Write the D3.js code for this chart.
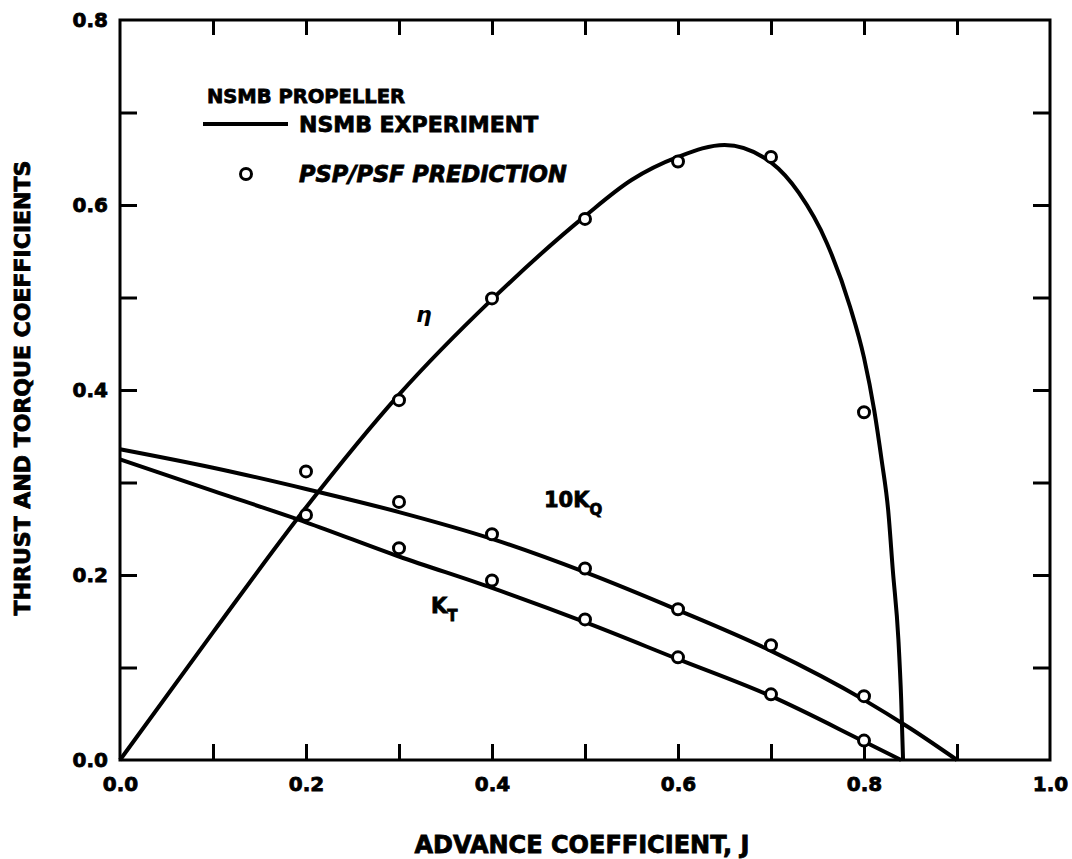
<!DOCTYPE html>
<html>
<head>
<meta charset="utf-8">
<script src="https://cdn.jsdelivr.net/npm/d3@7"></script>
<style>
  body { margin: 0; background: #fff; }
  text { font-family: "DejaVu Sans", sans-serif; font-weight: bold; fill: #000; }
</style>
</head>
<body>
<script>
/* experiment curves (NSMB) */
var etaJ   = [0, 0.1, 0.2, 0.3, 0.4, 0.5, 0.55, 0.6, 0.65, 0.7, 0.73, 0.76, 0.785, 0.8, 0.811, 0.819, 0.826, 0.831, 0.837, 0.84, 0.842];
var etaExp = [0, 0.138, 0.273, 0.395, 0.498, 0.588, 0.627, 0.652, 0.665, 0.646, 0.613, 0.559, 0.49, 0.435, 0.378, 0.324, 0.27, 0.205, 0.13, 0.065, 0];

var kqJ   = [0, 0.1, 0.2, 0.3, 0.4, 0.5, 0.6, 0.7, 0.8, 0.85, 0.9];
var kqExp = [0.336, 0.316, 0.293, 0.268, 0.239, 0.203, 0.162, 0.118, 0.065, 0.034, 0];

var ktJ   = [0, 0.1, 0.2, 0.3, 0.4, 0.5, 0.6, 0.7, 0.8, 0.84];
var ktExp = [0.325, 0.291, 0.257, 0.220, 0.186, 0.149, 0.109, 0.069, 0.02, 0];

/* PSP/PSF prediction points */
var etaPredJ = [0.3, 0.4, 0.5, 0.6, 0.7, 0.8];
var etaPred  = [0.389, 0.499, 0.585, 0.647, 0.652, 0.376];
var predJ    = [0.2, 0.3, 0.4, 0.5, 0.6, 0.7, 0.8];
var kqPred   = [0.312, 0.279, 0.244, 0.207, 0.163, 0.124, 0.069];
var ktPred   = [0.265, 0.229, 0.194, 0.152, 0.111, 0.071, 0.021];

/* ticks */
var xTicks = [0.1, 0.2, 0.3, 0.4, 0.5, 0.6, 0.7, 0.8, 0.9];
var xLabelVals = [0, 0.2, 0.4, 0.6, 0.8, 1.0];
var xTickLabels = ["0.0", "0.2", "0.4", "0.6", "0.8", "1.0"];
var yTicks = [0.1, 0.2, 0.3, 0.4, 0.5, 0.6, 0.7];
var yLabelVals = [0, 0.2, 0.4, 0.6, 0.8];
var yTickLabels = ["0.0", "0.2", "0.4", "0.6", "0.8"];

function propViz() {
	var W = 1072, H = 859;
	var pl = 120, pr = 1050, pt = 20, pb = 760;

	var svg = d3.select("body")
				.append("svg")
				.attr("width", W)
				.attr("height", H);

	var x = d3.scaleLinear().domain([0, 1]).range([pl, pr]);
	var y = d3.scaleLinear().domain([0, 0.8]).range([pb, pt]);

	/*Inward ticks on all four sides*/
	function tickAxis(axis, tx, ty) {
		var g = svg.append("g")
			.attr("transform", "translate(" + tx + "," + ty + ")")
			.call(axis);
		g.select(".domain").remove();
		g.selectAll("line").attr("stroke", "#000").attr("stroke-width", 3);
		return g;
	}
	tickAxis(d3.axisBottom(x).tickValues(xTicks).tickSize(-16).tickFormat(""), 0, pb);
	tickAxis(d3.axisTop(x).tickValues(xTicks).tickSize(-15).tickFormat(""), 0, pt);
	tickAxis(d3.axisLeft(y).tickValues(yTicks).tickSize(-17).tickFormat(""), pl, 0);
	tickAxis(d3.axisRight(y).tickValues(yTicks).tickSize(-17).tickFormat(""), pr, 0);

	/*Frame*/
	svg.append("rect")
		.attr("x", pl).attr("y", pt)
		.attr("width", pr - pl).attr("height", pb - pt)
		.attr("fill", "none")
		.attr("stroke", "#000")
		.attr("stroke-width", 3);

	/*Tick labels*/
	var xl = svg.append("g")
		.attr("transform", "translate(0," + pb + ")")
		.call(d3.axisBottom(x).tickValues(xLabelVals).tickSize(0).tickPadding(17)
			.tickFormat(function(d, i) { return xTickLabels[i]; }));
	xl.select(".domain").remove();
	xl.attr("font-family", null).attr("font-size", 20);

	var yl = svg.append("g")
		.attr("transform", "translate(" + pl + ",0)")
		.call(d3.axisLeft(y).tickValues(yLabelVals).tickSize(0).tickPadding(12)
			.tickFormat(function(d, i) { return yTickLabels[i]; }));
	yl.select(".domain").remove();
	yl.attr("font-family", null).attr("font-size", 20);

	svg.selectAll("text").attr("stroke", "#000").attr("stroke-width", 0.8);

	/*Axis titles*/
	svg.append("text")
		.attr("x", 582).attr("y", 853)
		.attr("text-anchor", "middle")
		.attr("font-size", 24)
		.attr("stroke", "#000").attr("stroke-width", 0.8)
		.text("ADVANCE COEFFICIENT, J");
	svg.append("text")
		.attr("transform", "translate(30,388) rotate(-90)")
		.attr("text-anchor", "middle")
		.attr("font-size", 22)
		.attr("stroke", "#000").attr("stroke-width", 0.8)
		.text("THRUST AND TORQUE COEFFICIENTS");

	/*Curves*/
	var line = d3.line()
		.x(function(d) { return x(d[0]); })
		.y(function(d) { return y(d[1]); })
		.curve(d3.curveMonotoneX);

	[[etaJ, etaExp], [kqJ, kqExp], [ktJ, ktExp]].forEach(function(s) {
		svg.append("path")
			.datum(d3.zip(s[0], s[1]))
			.attr("d", line)
			.attr("fill", "none")
			.attr("stroke", "#000")
			.attr("stroke-width", 4)
			.attr("stroke-linejoin", "round");
	});

	/*Prediction circles*/
	var pts = d3.zip(etaPredJ, etaPred)
		.concat(d3.zip(predJ, kqPred))
		.concat(d3.zip(predJ, ktPred));
	svg.selectAll("circle.pred")
		.data(pts)
		.enter()
		.append("circle")
		.attr("class", "pred")
		.attr("cx", function(d) { return x(d[0]); })
		.attr("cy", function(d) { return y(d[1]); })
		.attr("r", 5.5)
		.attr("fill", "#fff")
		.attr("stroke", "#000")
		.attr("stroke-width", 3);

	/*Curve labels*/
	svg.append("text")
		.attr("x", 416).attr("y", 322)
		.attr("font-family", "DejaVu Serif")
		.attr("font-style", "italic")
		.attr("font-weight", "normal")
		.attr("font-size", 22)
		.text("η");

	var kq = svg.append("text").attr("x", 544).attr("y", 507).attr("font-size", 21)
		.attr("stroke", "#000").attr("stroke-width", 0.8);
	kq.append("tspan").text("10K");
	kq.append("tspan").attr("font-size", 15).attr("dy", 8).text("Q");

	var kt = svg.append("text").attr("x", 431).attr("y", 613).attr("font-size", 21)
		.attr("stroke", "#000").attr("stroke-width", 0.8);
	kt.append("tspan").text("K");
	kt.append("tspan").attr("font-size", 15).attr("dy", 8).text("T");

	/*Legend*/
	svg.append("text")
		.attr("x", 207).attr("y", 103)
		.attr("font-size", 19.5)
		.attr("stroke", "#000").attr("stroke-width", 0.8)
		.text("NSMB PROPELLER");
	svg.append("line")
		.attr("x1", 203).attr("x2", 288)
		.attr("y1", 124).attr("y2", 124)
		.attr("stroke", "#000")
		.attr("stroke-width", 4);
	svg.append("text")
		.attr("x", 299).attr("y", 132)
		.attr("font-size", 22)
		.attr("stroke", "#000").attr("stroke-width", 0.8)
		.text("NSMB EXPERIMENT");
	svg.append("circle")
		.attr("cx", 246).attr("cy", 174)
		.attr("r", 5.5)
		.attr("fill", "#fff")
		.attr("stroke", "#000")
		.attr("stroke-width", 3);
	svg.append("text")
		.attr("x", 299).attr("y", 182)
		.attr("font-size", 22.5)
		.attr("font-style", "italic")
		.attr("stroke", "#000").attr("stroke-width", 0.8)
		.text("PSP/PSF PREDICTION");
}

propViz();
</script>
</body>
</html>
